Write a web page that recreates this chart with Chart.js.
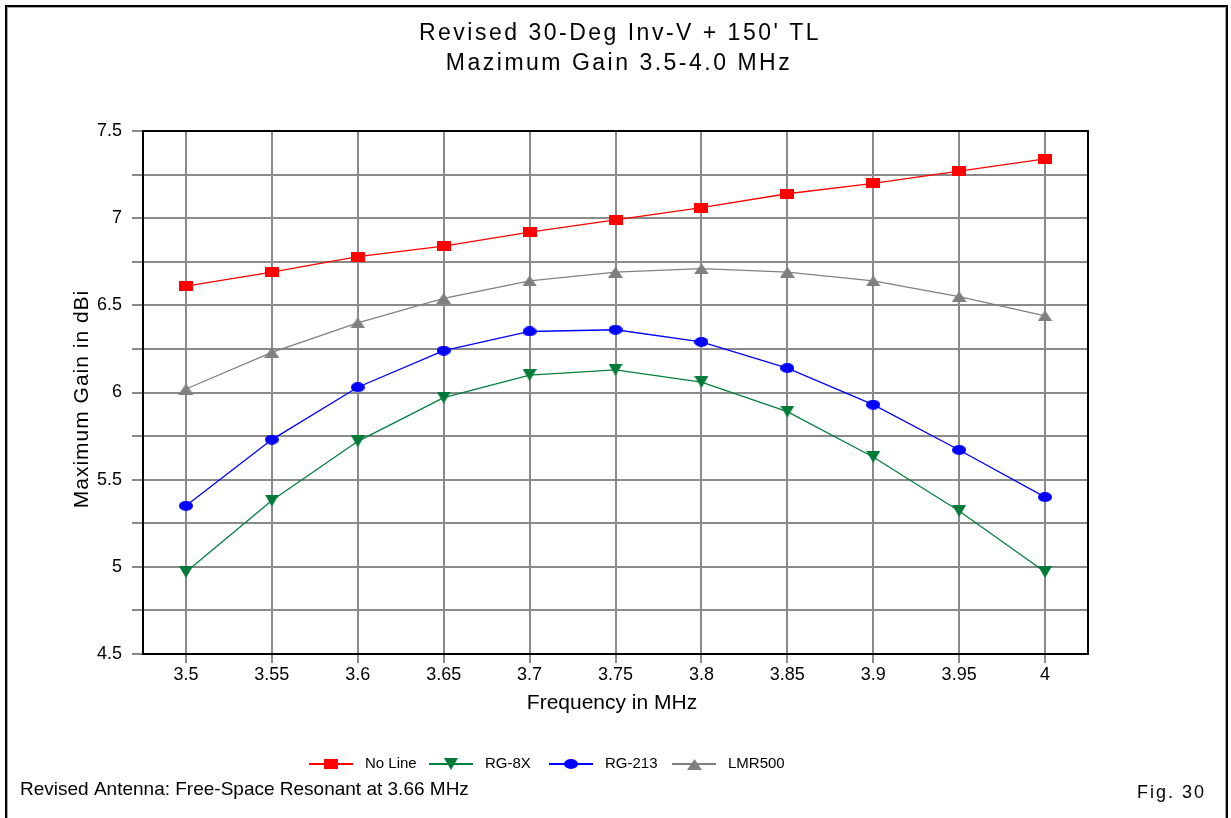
<!DOCTYPE html>
<html>
<head>
<meta charset="utf-8">
<title>Revised 30-Deg Inv-V + 150' TL</title>
<script src="https://cdn.jsdelivr.net/npm/chart.js@4.4.1/dist/chart.umd.min.js"></script>
<style>
  html, body { margin: 0; padding: 0; background: #fff; }
  canvas { display: block; }
</style>
</head>
<body>
<canvas id="gainChart" width="1231" height="818"></canvas>
<script>
// values
const frequencies = ["3.5", "3.55", "3.6", "3.65", "3.7", "3.75", "3.8", "3.85", "3.9", "3.95", "4"];
const noLine = [6.61, 6.69, 6.78, 6.84, 6.92, 6.99, 7.06, 7.14, 7.20, 7.27, 7.34];
const rg8x   = [4.97, 5.38, 5.72, 5.97, 6.10, 6.13, 6.06, 5.89, 5.63, 5.32, 4.97];
const rg213  = [5.35, 5.73, 6.03, 6.24, 6.35, 6.36, 6.29, 6.14, 5.93, 5.67, 5.40];
const lmr500 = [6.02, 6.23, 6.40, 6.54, 6.64, 6.69, 6.71, 6.69, 6.64, 6.55, 6.44];
const seriesNames = ["No Line", "RG-8X", "RG-213", "LMR500"];

const titleLines = ["Revised 30-Deg Inv-V + 150' TL", "Mazimum Gain 3.5-4.0 MHz"];
const xTitle = "Frequency in MHz";
const yTitle = "Maximum Gain in dBi";
const footLeft = "Revised Antenna: Free-Space Resonant at 3.66 MHz";
const footRight = "Fig. 30";

const FONT = "'Liberation Sans', Arial, sans-serif";

// small canvases used as point styles
function marker(shape, color, w, h) {
  const c = document.createElement("canvas");
  c.width = w;
  c.height = h;
  const g = c.getContext("2d");
  g.fillStyle = color;
  g.beginPath();
  if (shape === "rect") {
    g.rect(0, 0, w, h);
  } else if (shape === "circle") {
    g.ellipse(w / 2, h / 2, w / 2, h / 2, 0, 0, Math.PI * 2);
  } else if (shape === "down") {
    g.moveTo(0, 0); g.lineTo(w, 0); g.lineTo(w / 2, h);
  } else {
    g.moveTo(w / 2, 0); g.lineTo(w, h); g.lineTo(0, h);
  }
  g.closePath();
  g.fill();
  return c;
}

function series(label, data, color, style) {
  return {
    label: label,
    data: data,
    borderColor: color,
    backgroundColor: color,
    borderWidth: 1.3,
    tension: 0,
    pointStyle: style,
    pointRadius: 6,
  };
}

function text(ctx, str, x, y, size, align, spacing) {
  ctx.font = size + "px " + FONT;
  ctx.fillStyle = "#000";
  ctx.textAlign = align;
  ctx.textBaseline = "alphabetic";
  ctx.letterSpacing = (spacing || 0) + "px";
  ctx.fillText(str, x, y);
  ctx.letterSpacing = "0px";
}

const framePlugin = {
  id: "frame",
  beforeDraw(chart) {
    const ctx = chart.ctx;
    ctx.save();
    ctx.fillStyle = "#fff";
    ctx.fillRect(0, 0, chart.width, chart.height);
    ctx.fillStyle = "#000";
    ctx.fillRect(5, 5, 1223, 2);
    ctx.fillRect(5, 5, 2, chart.height);
    ctx.fillRect(1226, 5, 2, chart.height);
    ctx.fillStyle = "#a8a8a8";
    ctx.fillRect(7, 7, 1218, 1);
    ctx.fillRect(7, 7, 1, chart.height);
    ctx.fillRect(1225, 7, 1, chart.height);
    ctx.restore();
  },
  beforeDatasetsDraw(chart) {
    const { ctx, chartArea: a } = chart;
    ctx.save();
    ctx.strokeStyle = "#000";
    ctx.lineWidth = 2;
    ctx.strokeRect(a.left, a.top, a.right - a.left, a.bottom - a.top);
    ctx.restore();
  },
};

const legendX = [309, 429, 549, 672];

const textPlugin = {
  id: "texts",
  afterDraw(chart) {
    const ctx = chart.ctx;
    ctx.save();
    text(ctx, titleLines[0], 620, 40, 23, "center", 2.5);
    text(ctx, titleLines[1], 619, 70, 23, "center", 2.5);
    text(ctx, xTitle, 612, 709, 21, "center", 0);

    ctx.save();
    ctx.translate(88, 399);
    ctx.rotate(-Math.PI / 2);
    text(ctx, yTitle, 0, 0, 21, "center", 1);
    ctx.restore();

    // legend: line with marker, then name
    const y = 764;
    chart.data.datasets.forEach((ds, i) => {
      const x = legendX[i];
      ctx.strokeStyle = ds.borderColor;
      ctx.lineWidth = 2;
      ctx.beginPath();
      ctx.moveTo(x, y);
      ctx.lineTo(x + 44, y);
      ctx.stroke();
      const m = ds.pointStyle;
      ctx.drawImage(m, Math.round(x + 22 - m.width / 2), Math.round(y - m.height / 2));
      ctx.font = "15px " + FONT;
      ctx.fillStyle = "#000";
      ctx.textAlign = "left";
      ctx.textBaseline = "middle";
      ctx.fillText(ds.label, x + 56, y);
    });

    text(ctx, footLeft, 20, 795, 19, "left", 0);
    text(ctx, footRight, 1137, 798, 18, "left", 2);
    ctx.restore();
  },
};

new Chart(document.getElementById("gainChart"), {
  type: "line",
  data: {
    labels: frequencies,
    datasets: [
      series(seriesNames[0], noLine, "#ff0000", marker("rect", "#ff0000", 14, 10)),
      series(seriesNames[1], rg8x, "#00803c", marker("down", "#007a38", 14, 12)),
      series(seriesNames[2], rg213, "#0000ff", marker("circle", "#0000ff", 14, 10)),
      series(seriesNames[3], lmr500, "#808080", marker("up", "#808080", 15, 11)),
    ],
  },
  options: {
    responsive: false,
    animation: false,
    devicePixelRatio: 1,
    layout: { padding: { left: 60, top: 131, right: 143, bottom: 124 } },
    plugins: {
      legend: { display: false },
      title: { display: false },
      tooltip: { enabled: false },
    },
    scales: {
      x: {
        type: "category",
        offset: true,
        grid: { color: "#8a8a8a", lineWidth: 2, tickLength: 9, offset: false },
        border: { color: "#000", width: 2 },
        ticks: { color: "#000", padding: 1, font: { family: FONT, size: 18 } },
        afterFit: (s) => { s.height = 40; },
      },
      y: {
        min: 4.5,
        max: 7.5,
        grid: { color: "#8a8a8a", lineWidth: 2, tickLength: 11 },
        border: { color: "#000", width: 2 },
        ticks: {
          stepSize: 0.25,
          autoSkip: false,
          color: "#000",
          padding: 10,
          font: { family: FONT, size: 18 },
          callback: (v) => (Math.round(v * 4) % 2 === 0 ? String(+v.toFixed(2)) : ""),
        },
        afterFit: (s) => { s.width = 83; },
      },
    },
  },
  plugins: [framePlugin, textPlugin],
});
</script>
</body>
</html>
